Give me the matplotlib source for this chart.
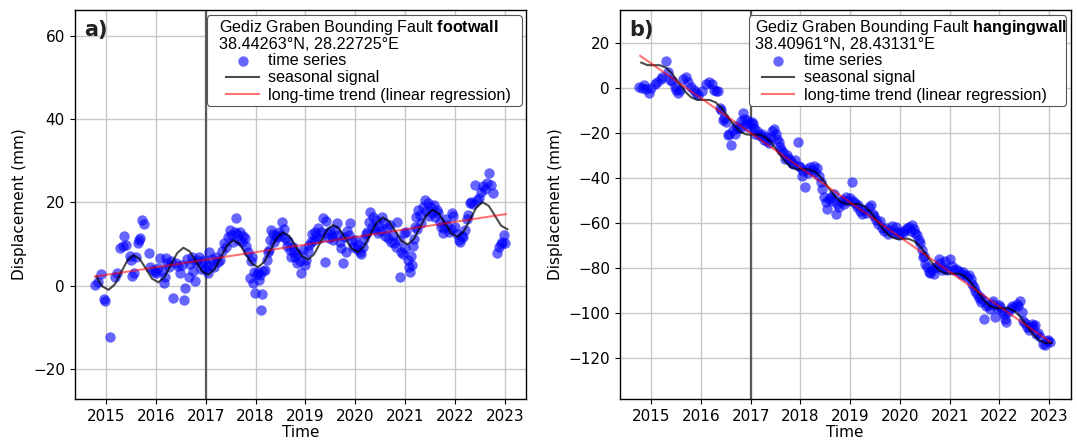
import numpy as np
import matplotlib
matplotlib.use("Agg")
import matplotlib.pyplot as plt
from matplotlib.offsetbox import HPacker, DrawingArea

# ---------------- data: panel a (footwall) ----------------
a_dates = [2014.78, 2014.83, 2014.89, 2014.95, 2014.97, 2015.08, 2015.18, 2015.21, 2015.28, 2015.34,
           2015.37, 2015.41, 2015.48, 2015.51, 2015.53, 2015.56, 2015.60, 2015.64, 2015.67, 2015.69,
           2015.73, 2015.76, 2015.87, 2015.89, 2015.95, 2015.98, 2016.01, 2016.05, 2016.08, 2016.13,
           2016.16, 2016.18, 2016.21, 2016.23, 2016.27, 2016.30, 2016.35, 2016.41, 2016.44, 2016.48,
           2016.53, 2016.56, 2016.58, 2016.62, 2016.66, 2016.69, 2016.72, 2016.75, 2016.78, 2016.80,
           2016.83, 2016.86, 2016.90, 2016.93, 2016.96, 2016.99, 2017.02, 2017.05, 2017.07, 2017.10,
           2017.13, 2017.16, 2017.20, 2017.24, 2017.28, 2017.32, 2017.37, 2017.40, 2017.44, 2017.48,
           2017.51, 2017.55, 2017.58, 2017.60, 2017.63, 2017.66, 2017.69, 2017.72, 2017.75, 2017.78,
           2017.81, 2017.84, 2017.88, 2017.90, 2017.92, 2017.95, 2017.97, 2017.99, 2018.02, 2018.05,
           2018.07, 2018.09, 2018.11, 2018.12, 2018.15, 2018.19, 2018.22, 2018.24, 2018.26, 2018.29,
           2018.31, 2018.34, 2018.37, 2018.40, 2018.43, 2018.46, 2018.50, 2018.53, 2018.56, 2018.59,
           2018.62, 2018.65, 2018.68, 2018.71, 2018.74, 2018.77, 2018.80, 2018.83, 2018.86, 2018.89,
           2018.92, 2018.96, 2018.99, 2019.02, 2019.05, 2019.08, 2019.11, 2019.14, 2019.17, 2019.19,
           2019.22, 2019.26, 2019.29, 2019.32, 2019.36, 2019.39, 2019.41, 2019.44, 2019.47, 2019.50,
           2019.53, 2019.56, 2019.60, 2019.63, 2019.66, 2019.69, 2019.72, 2019.75, 2019.78, 2019.81,
           2019.84, 2019.87, 2019.90, 2019.93, 2019.96, 2019.99, 2020.03, 2020.06, 2020.09, 2020.12,
           2020.15, 2020.18, 2020.21, 2020.24, 2020.27, 2020.30, 2020.33, 2020.36, 2020.39, 2020.42,
           2020.45, 2020.48, 2020.51, 2020.54, 2020.57, 2020.60, 2020.63, 2020.66, 2020.69, 2020.72,
           2020.75, 2020.78, 2020.81, 2020.84, 2020.87, 2020.89, 2020.92, 2020.95, 2020.98, 2021.00,
           2021.02, 2021.05, 2021.07, 2021.09, 2021.11, 2021.13, 2021.15, 2021.17, 2021.19, 2021.22,
           2021.24, 2021.26, 2021.29, 2021.32, 2021.35, 2021.39, 2021.42, 2021.45, 2021.48, 2021.51,
           2021.54, 2021.57, 2021.60, 2021.63, 2021.66, 2021.69, 2021.72, 2021.75, 2021.78, 2021.81,
           2021.84, 2021.88, 2021.91, 2021.93, 2021.96, 2021.99, 2022.03, 2022.07, 2022.10, 2022.13,
           2022.16, 2022.20, 2022.24, 2022.27, 2022.30, 2022.33, 2022.37, 2022.41, 2022.45, 2022.49,
           2022.53, 2022.57, 2022.61, 2022.65, 2022.68, 2022.72, 2022.76, 2022.84, 2022.88, 2022.92,
           2022.95, 2022.98, 2023.01]
a_disp = [0.2, 0.8, 2.8, -3.3, -3.6, -12.2, 2.2, 3.0, 9.0, 9.6,
          11.9, 9.8, 7.1, 6.2, 2.3, 3.1, 6.8, 10.2, 11.0, 11.4,
          15.9, 14.8, 7.9, 4.6, 3.8, 3.4, 3.0, 4.2, 6.6, 3.5,
          0.7, 2.2, 6.6, 5.4, 4.4, 6.0, -3.0, 5.4, 4.8, 3.1,
          5.0, -3.4, -0.6, 6.3, 2.2, 5.2, 7.0, 3.6, 1.1, 5.6,
          6.2, 7.0, 4.0, 5.4, 6.2, 3.9, 4.8, 3.1, 8.2, 5.0,
          6.3, 4.4, 7.0, 5.8, 6.2, 8.4, 10.3, 9.3, 11.8, 13.4,
          12.2, 10.6, 13.0, 16.2, 12.5, 11.0, 12.8, 10.4, 12.0, 11.4,
          9.6, 8.0, 1.8, 6.0, 7.0, 0.6, 3.4, -1.8, 2.8, 3.2,
          1.4, 2.6, -5.8, -2.0, 3.6, 3.8, 6.2, 8.0, 8.6, 11.0,
          13.5, 12.4, 10.5, 12.2, 11.6, 13.0, 12.0, 15.4, 13.6, 11.5,
          9.6, 10.8, 8.6, 7.0, 9.2, 8.0, 6.8, 5.5, 7.6, 6.0,
          3.1, 8.6, 5.0, 6.2, 8.4, 9.8, 10.6, 12.4, 11.0, 13.0,
          12.0, 13.8, 11.5, 12.8, 16.2, 5.8, 15.6, 12.6, 11.4, 13.2,
          12.0, 11.0, 13.5, 15.0, 12.2, 10.4, 9.0, 5.5, 11.8, 8.2,
          13.2, 12.2, 15.0, 10.8, 9.4, 11.0, 8.8, 9.8, 8.2, 7.6,
          9.4, 11.2, 12.4, 13.0, 15.2, 17.8, 14.2, 16.4, 13.6, 15.8,
          12.6, 14.4, 13.2, 16.6, 15.0, 12.0, 13.8, 11.4, 14.6, 10.6,
          12.2, 10.2, 9.2, 15.4, 11.0, 2.2, 8.2, 7.6, 12.6, 9.0,
          13.0, 6.2, 4.6, 3.4, 7.2, 5.0, 9.6, 11.2, 14.2, 16.4,
          13.6, 18.2, 17.0, 15.0, 19.0, 20.6, 18.0, 19.8, 16.8, 18.8,
          17.4, 19.4, 16.4, 18.2, 17.4, 15.4, 14.2, 12.6, 13.8, 16.0,
          14.6, 12.8, 13.6, 17.4, 16.8, 14.0, 12.4, 11.0, 10.4, 12.0,
          11.6, 13.4, 16.0, 17.0, 19.8, 20.2, 19.6, 24.2, 20.6, 21.0,
          22.6, 24.0, 23.2, 24.6, 27.0, 24.2, 22.2, 7.8, 9.4, 10.0,
          10.6, 12.2, 10.2]

# seasonal model curve (sampled every 1/8 year from 2014.8)
season_t = np.arange(2014.8, 2023.051, 0.125)
a_season = [2.24, -0.15, -1.00, 0.30, 3.15, 6.00, 7.31, 6.45, 4.06, 1.67,
            0.82, 2.12, 4.97, 7.82, 9.13, 8.27, 5.88, 3.49, 2.64, 3.94,
            6.79, 9.64, 10.95, 10.09, 7.70, 5.31, 4.46, 5.76, 8.61, 11.46,
            12.77, 11.91, 9.52, 7.13, 6.28, 7.58, 10.43, 13.28, 14.59, 13.73,
            11.34, 8.95, 8.10, 9.40, 12.25, 15.10, 16.41, 15.55, 13.16, 10.77,
            9.92, 11.22, 14.07, 16.92, 18.23, 17.37, 14.98, 12.59, 11.74, 13.04,
            15.89, 18.74, 20.05, 19.19, 16.80, 14.41, 13.56]
trend_t = [2014.78, 2023.02]
a_trend = [2.2, 17.2]

# ---------------- data: panel b (hangingwall) ----------------
b_dates = [2014.76, 2014.81, 2014.85, 2014.90, 2014.95, 2014.99, 2015.08, 2015.12, 2015.19, 2015.22,
           2015.29, 2015.34, 2015.38, 2015.42, 2015.48, 2015.50, 2015.53, 2015.57, 2015.64, 2015.70,
           2015.74, 2015.80, 2015.86, 2015.90, 2015.95, 2016.02, 2016.10, 2016.17, 2016.22, 2016.26,
           2016.30, 2016.34, 2016.38, 2016.41, 2016.44, 2016.47, 2016.50, 2016.54, 2016.57, 2016.61,
           2016.64, 2016.68, 2016.71, 2016.74, 2016.78, 2016.81, 2016.84, 2016.87, 2016.90, 2016.92,
           2016.95, 2016.98, 2017.02, 2017.05, 2017.07, 2017.09, 2017.12, 2017.16, 2017.20, 2017.23,
           2017.27, 2017.30, 2017.32, 2017.36, 2017.40, 2017.43, 2017.46, 2017.50, 2017.53, 2017.56,
           2017.59, 2017.62, 2017.66, 2017.69, 2017.73, 2017.76, 2017.80, 2017.83, 2017.86, 2017.90,
           2017.95, 2017.98, 2018.00, 2018.03, 2018.06, 2018.10, 2018.13, 2018.16, 2018.20, 2018.23,
           2018.27, 2018.30, 2018.33, 2018.37, 2018.41, 2018.44, 2018.47, 2018.51, 2018.54, 2018.57,
           2018.61, 2018.64, 2018.68, 2018.71, 2018.74, 2018.77, 2018.81, 2018.85, 2018.88, 2018.92,
           2018.95, 2018.99, 2019.03, 2019.06, 2019.09, 2019.13, 2019.16, 2019.20, 2019.23, 2019.28,
           2019.32, 2019.37, 2019.41, 2019.45, 2019.48, 2019.52, 2019.56, 2019.60, 2019.65, 2019.69,
           2019.72, 2019.76, 2019.80, 2019.85, 2019.88, 2019.92, 2019.95, 2019.98, 2020.02, 2020.06,
           2020.10, 2020.15, 2020.19, 2020.22, 2020.25, 2020.28, 2020.31, 2020.35, 2020.38, 2020.41,
           2020.44, 2020.46, 2020.48, 2020.51, 2020.54, 2020.58, 2020.61, 2020.64, 2020.68, 2020.71,
           2020.75, 2020.78, 2020.81, 2020.84, 2020.88, 2020.91, 2020.95, 2021.01, 2021.04, 2021.09,
           2021.13, 2021.18, 2021.22, 2021.26, 2021.30, 2021.35, 2021.38, 2021.42, 2021.45, 2021.48,
           2021.51, 2021.55, 2021.58, 2021.61, 2021.64, 2021.67, 2021.70, 2021.74, 2021.78, 2021.81,
           2021.85, 2021.88, 2021.91, 2021.95, 2021.99, 2022.02, 2022.05, 2022.09, 2022.11, 2022.14,
           2022.17, 2022.21, 2022.25, 2022.30, 2022.35, 2022.38, 2022.41, 2022.45, 2022.48, 2022.52,
           2022.55, 2022.59, 2022.62, 2022.65, 2022.68, 2022.71, 2022.74, 2022.78, 2022.82, 2022.88,
           2022.91, 2022.95, 2022.98, 2023.02]
b_disp = [0.4, 0.0, 1.2, -0.7, -2.2, 0.0, 1.8, 2.7, 4.1, 4.6,
          12.0, 7.1, 3.4, 3.0, 0.4, -1.0, -2.5, -0.8, 4.1, 4.9,
          2.4, 0.4, -1.0, -2.5, -3.4, -1.5, 1.9, 2.7, 1.9, -0.8,
          -1.2, -1.3, -9.0, -9.9, -14.4, -13.2, -15.1, -21.0, -20.3, -25.4,
          -18.8, -20.3, -17.0, -18.0, -18.0, -14.6, -11.2, -13.8, -16.0, -14.3,
          -17.5, -15.6, -15.1, -16.0, -18.0, -20.4, -19.2, -20.9, -21.4, -20.3,
          -23.2, -22.0, -23.4, -24.6, -21.8, -19.0, -18.2, -20.6, -22.7, -24.0,
          -26.4, -27.5, -28.6, -31.4, -30.0, -31.0, -32.0, -33.2, -33.7, -31.8,
          -24.1, -34.8, -35.2, -38.9, -37.0, -44.1, -36.0, -37.8, -35.2, -36.4,
          -34.5, -37.4, -35.6, -38.9, -41.9, -45.0, -48.5, -50.7, -53.6, -49.2,
          -48.4, -50.4, -47.0, -55.8, -51.5, -52.8, -50.2, -49.9, -51.5, -48.4,
          -50.0, -49.0, -41.8, -50.2, -51.3, -53.0, -52.0, -54.6, -55.8, -54.0,
          -55.4, -52.8, -51.9, -56.0, -57.0, -58.7, -60.4, -59.2, -62.2, -63.6,
          -62.0, -64.8, -63.0, -61.5, -64.4, -61.7, -63.8, -65.2, -64.0, -64.6,
          -63.0, -62.2, -61.7, -63.6, -60.7, -62.4, -64.4, -65.2, -67.6, -69.0,
          -72.0, -75.0, -74.8, -78.2, -79.4, -81.5, -82.0, -80.6, -82.4, -79.4,
          -79.3, -75.7, -77.6, -80.6, -80.0, -76.8, -80.9, -76.0, -79.2, -80.9,
          -80.2, -81.2, -82.4, -81.6, -83.0, -84.1, -83.2, -84.6, -87.0, -88.3,
          -90.2, -91.3, -93.0, -92.8, -95.0, -94.2, -102.5, -96.8, -96.4, -98.0,
          -95.8, -94.4, -101.8, -97.6, -96.2, -97.2, -98.8, -100.1, -102.5, -103.8,
          -99.4, -98.2, -96.6, -97.2, -95.9, -96.8, -94.4, -99.6, -103.2, -104.2,
          -106.2, -107.5, -106.0, -104.7, -105.8, -105.4, -109.0, -108.6, -110.4, -113.5,
          -114.2, -112.1, -111.8, -112.7]
b_season = [11.20, 10.07, 10.05, 10.04, 8.90, 6.19, 2.35, -1.49, -4.20, -5.34,
            -5.35, -5.37, -6.50, -9.22, -13.05, -16.89, -19.60, -20.74, -20.75, -20.77,
            -21.90, -24.62, -28.45, -32.29, -35.00, -36.14, -36.15, -36.17, -37.30, -40.02,
            -43.85, -47.69, -50.40, -51.54, -51.55, -51.57, -52.70, -55.42, -59.25, -63.09,
            -65.80, -66.94, -66.95, -66.97, -68.10, -70.82, -74.65, -78.49, -81.20, -82.34,
            -82.35, -82.37, -83.50, -86.22, -90.05, -93.89, -96.60, -97.74, -97.75, -97.77,
            -98.90, -101.62, -105.45, -109.29, -112.00, -113.14, -113.15]
b_trend = [14.2, -112.7]

year_ticks = [2015, 2016, 2017, 2018, 2019, 2020, 2021, 2022, 2023]
a_yticks = [-20, 0, 20, 40, 60]
b_yticks = [-120, -100, -80, -60, -40, -20, 0, 20]
event_year = 2017.0

panels = [
    dict(label="a)", dates=a_dates, disp=a_disp, season=a_season, trend=a_trend,
         title="Gediz Graben Bounding Fault $\\bf{footwall}$\n38.44263°N, 28.22725°E",
         ylim=(-27.2, 66.2), yticks=a_yticks, rect=[0.0693, 0.0973, 0.4194, 0.880],
         leg_x=(0.293, 0.995), inset=(7, 12)),
    dict(label="b)", dates=b_dates, disp=b_disp, season=b_season, trend=b_trend,
         title="Gediz Graben Bounding Fault $\\bf{hangingwall}$\n38.40961°N, 28.43131°E",
         ylim=(-138.0, 34.5), yticks=b_yticks, rect=[0.5755, 0.0973, 0.4185, 0.880],
         leg_x=(0.287, 0.996), inset=(2.5, 7)),
]

plt.rcParams['font.family'] = ['DejaVu Sans']
plt.rcParams['mathtext.fontset'] = 'custom'
plt.rcParams['mathtext.bf'] = 'Liberation Sans:bold'
plt.rcParams['mathtext.rm'] = 'Liberation Sans'

fig = plt.figure(figsize=(10.77, 4.42), dpi=100)

for p in panels:
    ax = fig.add_axes(p["rect"])
    ax.set_axisbelow(True)
    ax.grid(True, color="#c8c8c8", lw=1.0)
    ax.scatter(p["dates"], p["disp"], s=56, color="blue", alpha=0.6, lw=0,
               label="time series", zorder=2)
    ax.plot(season_t, p["season"], color="black", alpha=0.7, lw=1.5,
            label="seasonal signal", zorder=3)
    ax.plot(trend_t, p["trend"], color="red", alpha=0.55, lw=1.5,
            label="long-time trend (linear regression)", zorder=4)
    ax.axvline(event_year, color="#5a5a5a", lw=1.6, zorder=1.5)
    ax.set_xlim(2014.37, 2023.43)
    ax.set_ylim(*p["ylim"])
    ax.set_xticks(year_ticks)
    ax.set_xticklabels([str(y) for y in year_ticks])
    ax.set_yticks(p["yticks"])
    ax.tick_params(labelsize=11)
    for s in ax.spines.values():
        s.set_linewidth(1.0)
    ax.set_xlabel("Time", fontsize=11, labelpad=1)
    ax.set_ylabel("Displacement (mm)", fontsize=11)
    ax.text(0.022, 0.975, p["label"], transform=ax.transAxes, fontsize=15,
            fontweight="bold", va="top", ha="left", color="#222222")
    x0, x1 = p["leg_x"]
    leg = ax.legend(loc="upper left", bbox_to_anchor=(x0, 0.986, x1 - x0, 0.0),
                    mode="expand", title=p["title"], alignment="left",
                    prop={"family": "Liberation Sans", "size": 11.6},
                    title_fontproperties={"family": "Liberation Sans", "size": 11.6},
                    borderaxespad=0.0, labelspacing=0.15, handlelength=2.0,
                    handletextpad=0.6, borderpad=0.25, framealpha=1.0,
                    edgecolor="#555555", fancybox=True)
    leg.get_frame().set_linewidth(0.8)
    leg.get_title().set_linespacing(1.0)
    # horizontal inset of the legend contents inside the frame
    tb = leg._legend_title_box
    hb = leg._legend_handle_box
    ti, hi = p["inset"]
    leg._legend_box._children = [
        HPacker(pad=0, sep=0, children=[DrawingArea(ti, 0), tb]),
        HPacker(pad=0, sep=0, children=[DrawingArea(hi, 0), hb]),
    ]
    leg._legend_box.sep = 0.5
    leg._legend_box.pad = 2

fig.savefig("out.png", dpi=100)
